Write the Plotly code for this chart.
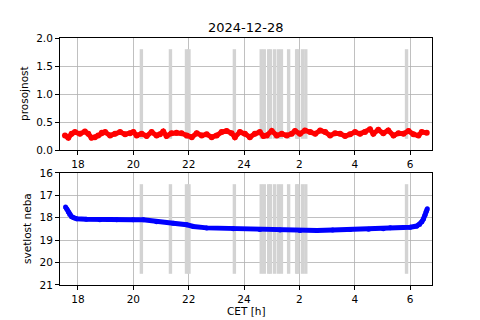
import plotly.graph_objects as go
from plotly.subplots import make_subplots

# transparency (prosojnost)
t_hours = [17.53, 17.65, 17.77, 17.89, 18.07, 18.25, 18.37, 18.49, 18.61, 18.73,
           18.86, 18.98, 19.16, 19.34, 19.52, 19.70, 19.88, 20.00, 20.12, 20.30,
           20.48, 20.66, 20.84, 20.96, 21.08, 21.20, 21.38, 21.56, 21.74, 21.93,
           22.11, 22.29, 22.47, 22.65, 22.83, 23.01, 23.19, 23.37, 23.55, 23.67,
           23.85, 24.03, 24.21, 24.39, 24.57, 24.70, 24.82, 25.00, 25.18, 25.36,
           25.54, 25.72, 25.84, 26.02, 26.20, 26.39, 26.57, 26.75, 26.93, 27.11,
           27.29, 27.47, 27.65, 27.83, 28.01, 28.19, 28.37, 28.55, 28.67, 28.85,
           29.03, 29.21, 29.40, 29.58, 29.76, 29.94, 30.12, 30.30, 30.42, 30.60]
transparency = [0.26, 0.22, 0.29, 0.32, 0.29, 0.33, 0.29, 0.22, 0.23, 0.26,
                0.31, 0.32, 0.26, 0.29, 0.32, 0.28, 0.30, 0.32, 0.26, 0.29,
                0.25, 0.32, 0.26, 0.28, 0.33, 0.25, 0.30, 0.31, 0.30, 0.26,
                0.23, 0.30, 0.26, 0.28, 0.23, 0.26, 0.32, 0.34, 0.30, 0.23,
                0.32, 0.29, 0.23, 0.29, 0.32, 0.25, 0.26, 0.34, 0.26, 0.29,
                0.26, 0.29, 0.34, 0.29, 0.35, 0.32, 0.29, 0.35, 0.32, 0.26,
                0.30, 0.29, 0.25, 0.28, 0.32, 0.29, 0.32, 0.37, 0.29, 0.36,
                0.30, 0.35, 0.26, 0.30, 0.29, 0.34, 0.28, 0.26, 0.32, 0.31]

# sky brightness (svetlost neba)
b_hours = [17.55, 17.60, 17.65, 17.70, 17.77, 17.85, 17.95, 18.30, 18.79, 19.40,
           19.99, 20.36, 20.84, 21.44, 21.93, 22.17, 22.65, 23.61, 24.57, 25.30,
           26.02, 26.63, 27.20, 27.83, 28.50, 29.03, 29.28, 30.00, 30.24, 30.34,
           30.42, 30.48, 30.54, 30.58, 30.62]
brightness = [17.52, 17.62, 17.74, 17.85, 17.95, 18.00, 18.04, 18.07, 18.09, 18.09,
              18.09, 18.09, 18.18, 18.24, 18.31, 18.39, 18.45, 18.49, 18.52, 18.54,
              18.57, 18.57, 18.55, 18.52, 18.51, 18.49, 18.44, 18.42, 18.37, 18.30,
              18.18, 18.05, 17.88, 17.72, 17.60]

# cloud flags (grey vertical bars)
cloud_hours = [20.29, 21.34, 21.92, 22.01, 23.65, 24.62, 24.73, 24.89, 24.95,
               25.10, 25.24, 25.35, 25.61, 25.90, 25.94, 26.11, 26.23, 29.87]
cloud_top = [0.2, 1.8]
cloud_bottom = [16.5, 20.5]

tick_vals = [18, 20, 22, 24, 26, 28, 30]
tick_text = ["18", "20", "22", "24", "2", "4", "6"]

FONT = "DejaVu Sans"
W, H = 480, 320
ML, MR, MT, MB = 60, 48, 38, 35

fig = make_subplots(rows=2, cols=1, vertical_spacing=0.093)

def bars(yext):
    xs, ys = [], []
    for h in cloud_hours:
        xs += [h, h, None]
        ys += [yext[0], yext[1], None]
    return xs, ys

bx, by = bars(cloud_top)
fig.add_trace(go.Scatter(x=bx, y=by, mode="lines", line=dict(color="#d3d3d3", width=3.4),
                         showlegend=False, hoverinfo="skip"), row=1, col=1)
bx, by = bars(cloud_bottom)
fig.add_trace(go.Scatter(x=bx, y=by, mode="lines", line=dict(color="#d3d3d3", width=3.4),
                         showlegend=False, hoverinfo="skip"), row=2, col=1)

fig.add_trace(go.Scatter(x=t_hours, y=transparency, mode="lines+markers",
                         line=dict(color="#ff0000", width=5),
                         marker=dict(color="#ff0000", size=6),
                         showlegend=False), row=1, col=1)
fig.add_trace(go.Scatter(x=b_hours, y=brightness, mode="lines+markers",
                         line=dict(color="#0000ff", width=5),
                         marker=dict(color="#0000ff", size=5),
                         showlegend=False), row=2, col=1)

axis_common = dict(showline=True, linecolor="black", linewidth=1, mirror=True,
                   showgrid=True, gridcolor="#b0b0b0", gridwidth=0.8,
                   ticks="outside", ticklen=4, tickcolor="black", automargin=False,
                   tickfont=dict(family=FONT, size=10.5, color="black"), zeroline=False)

for r in (1, 2):
    fig.update_xaxes(range=[17.35, 30.79], tickvals=tick_vals, ticktext=tick_text,
                     row=r, col=1, **axis_common)

fig.update_yaxes(range=[0, 2], tickvals=[0, 0.5, 1.0, 1.5, 2.0], tickformat=".1f",
                 row=1, col=1, **axis_common)
fig.update_yaxes(range=[21, 16], tickvals=[16, 17, 18, 19, 20, 21],
                 row=2, col=1, **axis_common)

lab_font = dict(family=FONT, size=10.5, color="black")
# positions given in pixels of the 480x320 picture
labels = [
    dict(text="prosojnost", px=24, py=94, textangle=-90, font=lab_font),
    dict(text="svetlost neba", px=27, py=229, textangle=-90, font=lab_font),
    dict(text="CET [h]", px=246, py=311, font=lab_font),
    dict(text="2024-12-28", px=246, py=27.5, font=dict(family=FONT, size=13, color="black")),
]
for a in labels:
    px = a.pop("px")
    py = a.pop("py")
    a["x"] = (px - ML) / (W - ML - MR)
    a["y"] = 1 - (py - MT) / (H - MT - MB)
    a.update(xref="paper", yref="paper", xanchor="center", yanchor="middle", showarrow=False)
    fig.add_annotation(**a)

fig.update_layout(
    width=W, height=H,
    margin=dict(l=ML, r=MR, t=MT, b=MB, autoexpand=False),
    paper_bgcolor="white", plot_bgcolor="white",
    font=dict(family=FONT),
    hovermode=False,
)

fig.write_html("out.html",
               config=dict(staticPlot=True, displayModeBar=False),
               post_script="document.body.style.margin='0';document.body.style.overflow='hidden';")
